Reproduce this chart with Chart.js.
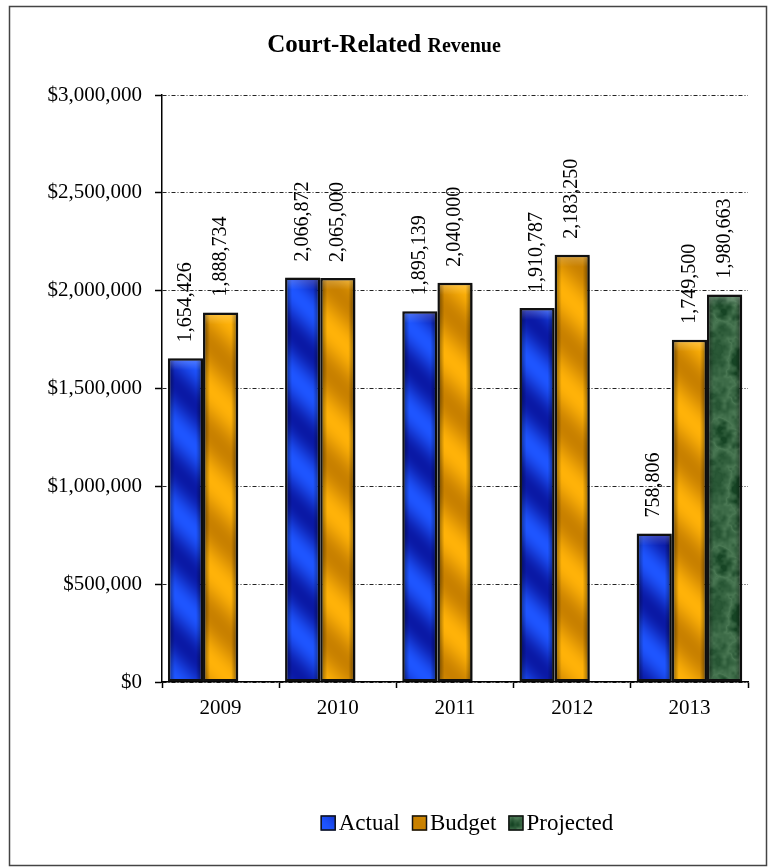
<!DOCTYPE html>
<html>
<head>
<meta charset="utf-8">
<script src="https://cdn.jsdelivr.net/npm/chart.js@4/dist/chart.umd.min.js"></script>
<style>
  html, body { margin: 0; padding: 0; background: #fff; }
  canvas { display: block; }
</style>
</head>
<body>
<canvas id="courtRevenue" width="768" height="867"></canvas>
<script>
const years = ['2009', '2010', '2011', '2012', '2013'];
const actual = [1654426, 2066872, 1895139, 1910787, 758806];
const budget = [1888734, 2065000, 2040000, 2183250, 1749500];
const projected = [null, null, null, null, 1980663];
const seriesNames = ['Actual', 'Budget', 'Projected'];
const yTicks = [0, 500000, 1000000, 1500000, 2000000, 2500000, 3000000];

const SERIF = '"Liberation Serif", "Times New Roman", serif';

// textures for the three series
function makeTile(size, pixel) {
    const c = document.createElement('canvas');
    c.width = c.height = size;
    const g = c.getContext('2d');
    const img = g.createImageData(size, size);
    for (let y = 0; y < size; y++) {
        for (let x = 0; x < size; x++) {
            const [r, gr, b] = pixel(x, y);
            const i = (y * size + x) * 4;
            img.data[i] = r; img.data[i + 1] = gr; img.data[i + 2] = b; img.data[i + 3] = 255;
        }
    }
    g.putImageData(img, 0, 0);
    return c;
}

function mix(a, b, t) {
    return [a[0] + (b[0] - a[0]) * t, a[1] + (b[1] - a[1]) * t, a[2] + (b[2] - a[2]) * t];
}

function stripes(size, dark, light) {
    return makeTile(size, (x, y) => {
        const t = (((x - y) % size) + size) % size / size;
        const s = 0.5 + 0.5 * Math.cos(t * Math.PI * 2);
        return mix(dark, light, s);
    });
}

// hash-based value noise that wraps at the tile edge
function hash(i, j, k) {
    const v = Math.sin(i * 12.9898 + j * 78.233 + k * 37.719) * 43758.5453;
    return v - Math.floor(v);
}

function marble(size) {
    const noise = (x, y, n) => {
        const fx = x / size * n, fy = y / size * n;
        const x0 = Math.floor(fx), y0 = Math.floor(fy);
        let tx = fx - x0, ty = fy - y0;
        tx = tx * tx * (3 - 2 * tx);
        ty = ty * ty * (3 - 2 * ty);
        const at = (i, j) => hash(i % n, j % n, n);
        const a = at(x0, y0) * (1 - tx) + at(x0 + 1, y0) * tx;
        const b = at(x0, y0 + 1) * (1 - tx) + at(x0 + 1, y0 + 1) * tx;
        return a * (1 - ty) + b * ty;
    };
    return makeTile(size, (x, y) => {
        const v = 0.4 * noise(x, y, 5) + 0.3 * noise(x, y, 11) + 0.2 * noise(x, y, 23) + 0.1 * noise(x, y, 47);
        const vein = 1 - Math.abs(v - 0.5) * 4;
        const s = Math.max(0, vein) * 0.55 + Math.max(0, v - 0.45) * 0.6;
        return mix([22, 68, 36], [112, 158, 118], Math.min(1, s));
    });
}

const probe = document.createElement('canvas').getContext('2d');
const blueFill = probe.createPattern(stripes(84, [10, 25, 165], [30, 85, 255]), 'repeat');
const goldFill = probe.createPattern(stripes(90, [200, 128, 0], [255, 178, 8]), 'repeat');
const greenFill = probe.createPattern(marble(128), 'repeat');
const fills = [blueFill, goldFill, greenFill];

function money(v) {
    return '$' + v.toLocaleString('en-US');
}

const barDecor = {
    id: 'barDecor',
    beforeDraw(chart) {
        const ctx = chart.ctx;
        ctx.save();
        ctx.fillStyle = '#fff';
        ctx.fillRect(0, 0, chart.width, chart.height);
        ctx.restore();
    },
    beforeDatasetsDraw(chart) {
        const ctx = chart.ctx;
        ctx.save();
        ctx.shadowColor = 'rgba(0,0,0,0.35)';
        ctx.shadowBlur = 3;
        ctx.shadowOffsetX = 2;
        ctx.shadowOffsetY = 1;
    },
    afterDatasetsDraw(chart) {
        const ctx = chart.ctx;
        ctx.restore();

        chart.data.datasets.forEach((ds, di) => {
            const meta = chart.getDatasetMeta(di);
            meta.data.forEach((bar, i) => {
                const v = ds.data[i];
                if (v === null) return;
                const half = bar.width / 2;
                const left = bar.x - half;
                const top = Math.min(bar.y, bar.base);
                const h = Math.abs(bar.base - bar.y);

                // rounded shading on the sides of each bar
                const g = ctx.createLinearGradient(left, 0, left + bar.width, 0);
                g.addColorStop(0, 'rgba(0,0,0,0.5)');
                g.addColorStop(0.2, 'rgba(0,0,0,0)');
                g.addColorStop(0.8, 'rgba(0,0,0,0)');
                g.addColorStop(1, 'rgba(0,0,0,0.5)');
                ctx.save();
                ctx.fillStyle = g;
                ctx.fillRect(left + 2.5, top + 2.5, bar.width - 5, h - 5);
                const t = ctx.createLinearGradient(0, top, 0, top + 12);
                t.addColorStop(0, 'rgba(255,255,255,0.25)');
                t.addColorStop(1, 'rgba(255,255,255,0)');
                ctx.fillStyle = t;
                ctx.fillRect(left + 2.5, top + 2.5, bar.width - 5, 10);
                ctx.restore();

                // value printed upright above the bar
                ctx.save();
                ctx.translate(bar.x, bar.y - 16);
                ctx.rotate(-Math.PI / 2);
                ctx.font = '20px ' + SERIF;
                ctx.fillStyle = '#000';
                ctx.textAlign = 'left';
                ctx.textBaseline = 'middle';
                ctx.fillText(v.toLocaleString('en-US'), 0, 0);
                ctx.restore();
            });
        });
    },
    afterDraw(chart) {
        const ctx = chart.ctx;
        ctx.save();

        // title, second word set smaller
        const w1 = 'Court-Related ';
        const w2 = 'Revenue';
        ctx.fillStyle = '#000';
        ctx.textBaseline = 'alphabetic';
        ctx.textAlign = 'left';
        ctx.font = 'bold 25px ' + SERIF;
        const a = ctx.measureText(w1).width;
        ctx.font = 'bold 20px ' + SERIF;
        const b = ctx.measureText(w2).width;
        const x = 384 - (a + b) / 2;
        ctx.font = 'bold 25px ' + SERIF;
        ctx.fillText(w1, x, 52);
        ctx.font = 'bold 20px ' + SERIF;
        ctx.fillText(w2, x + a, 52);

        // legend
        ctx.font = '23px ' + SERIF;
        const box = 15, gapText = 3, gapItem = 12;
        const widths = seriesNames.map(n => box + gapText + ctx.measureText(n).width);
        const total = widths.reduce((s, w) => s + w, 0) + gapItem * (seriesNames.length - 1);
        let lx = 467 - total / 2;
        const ly = 823;
        seriesNames.forEach((name, i) => {
            ctx.fillStyle = fills[i];
            ctx.fillRect(lx, ly - box / 2, box, box);
            ctx.strokeStyle = '#111';
            ctx.lineWidth = 1.5;
            ctx.strokeRect(lx + 0.5, ly - box / 2 + 0.5, box - 1, box - 1);
            ctx.fillStyle = '#000';
            ctx.textBaseline = 'middle';
            ctx.fillText(name, lx + box + gapText, ly + 1);
            lx += widths[i] + gapItem;
        });

        // frame round the whole chart
        ctx.strokeStyle = '#444';
        ctx.lineWidth = 1.5;
        ctx.strokeRect(9.5, 6.5, 757, 859);
        ctx.restore();
    }
};

const ctx = document.getElementById('courtRevenue').getContext('2d');
new Chart(ctx, {
    type: 'bar',
    data: {
        labels: years,
        datasets: [
            { label: seriesNames[0], data: actual, backgroundColor: blueFill },
            { label: seriesNames[1], data: budget, backgroundColor: goldFill },
            { label: seriesNames[2], data: projected, backgroundColor: greenFill }
        ].map(d => Object.assign(d, {
            borderColor: '#111',
            borderWidth: 2.5,
            borderSkipped: false,
            categoryPercentage: 0.9,
            barPercentage: 1.0
        }))
    },
    options: {
        responsive: false,
        animation: false,
        devicePixelRatio: 1,
        layout: {
            padding: { top: 95, right: 20, bottom: 145, left: 0 }
        },
        plugins: {
            legend: { display: false },
            title: { display: false },
            tooltip: { enabled: false }
        },
        scales: {
            x: {
                offset: true,
                grid: {
                    offset: true,
                    drawOnChartArea: false,
                    drawTicks: true,
                    tickLength: 6,
                    tickColor: '#000',
                    tickWidth: 1.5
                },
                border: { display: true, color: '#000', width: 1.5 },
                ticks: {
                    color: '#000',
                    padding: 8,
                    font: { family: SERIF, size: 21 }
                },
                afterFit(scale) { scale.height = 40; }
            },
            y: {
                min: 0,
                max: 3000000,
                afterBuildTicks(scale) {
                    scale.ticks = yTicks.map(v => ({ value: v }));
                },
                grid: {
                    color: '#222',
                    lineWidth: 1,
                    tickLength: 7,
                    tickColor: '#000',
                    tickWidth: 1.5,
                    tickBorderDash: []
                },
                border: { display: true, color: '#000', width: 1.5, dash: [4, 2, 1, 2] },
                ticks: {
                    color: '#000',
                    padding: 13,
                    font: { family: SERIF, size: 21 },
                    callback: v => money(v)
                },
                afterFit(scale) { scale.width = 162; }
            }
        }
    },
    plugins: [barDecor]
});
</script>
</body>
</html>
